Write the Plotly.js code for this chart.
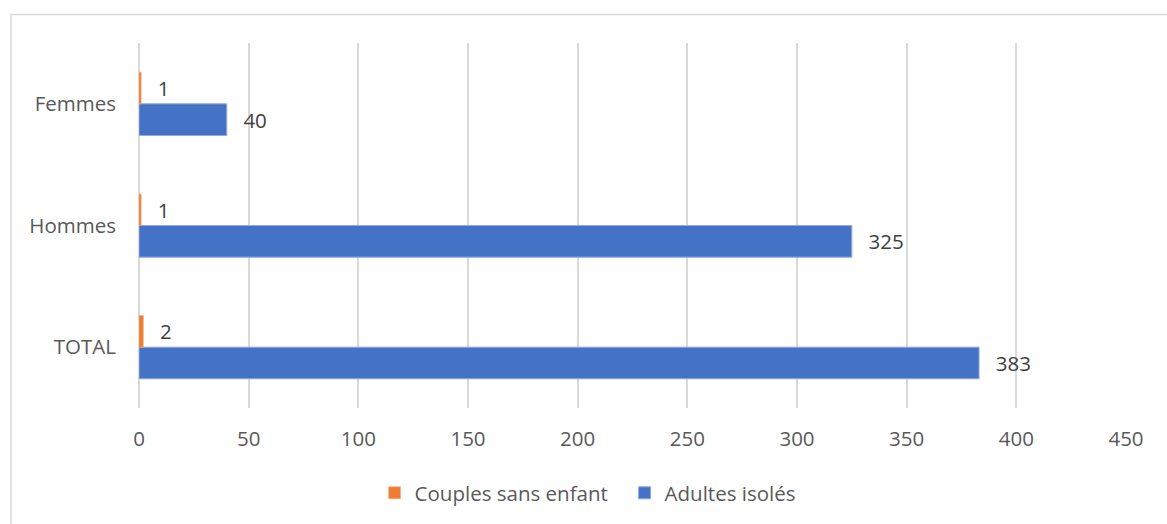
<!DOCTYPE html>
<html>
<head>
<meta charset="utf-8">
<script src="https://cdn.plot.ly/plotly-3.0.1.min.js"></script>
<style>html,body{margin:0;padding:0;background:#fff;}#chart{width:1167px;height:524px;}</style>
</head>
<body>
<div id="chart"></div>
<script>
const categories = ["TOTAL", "Hommes", "Femmes"];
const couplesSansEnfant = [2, 1, 1];
const adultesIsoles = [383, 325, 40];
const seriesNames = ["Couples sans enfant", "Adultes isolés"];
const xTicks = [0, 50, 100, 150, 200, 250, 300, 350, 400, 450];

const pad = "\u2002\u2009";
const FONT = "'Open Sans', sans-serif";
const labelFont = {family: FONT, size: 20.5, color: "#404040"};

const traces = [
  {
    type: "bar", orientation: "h", name: seriesNames[1],
    y: categories, x: adultesIsoles,
    marker: {color: "#4472C4", line: {color: "#8FAADC", width: 1}},
    text: adultesIsoles.map(v => pad + v), textposition: "outside",
    textfont: labelFont, cliponaxis: false, hoverinfo: "x+y"
  },
  {
    type: "bar", orientation: "h", name: seriesNames[0],
    y: categories, x: couplesSansEnfant,
    marker: {color: "#ED7D31", line: {color: "#F4B183", width: 0.5}},
    text: couplesSansEnfant.map(v => pad + v), textposition: "outside",
    textfont: labelFont, cliponaxis: false, hoverinfo: "x+y"
  }
];

const L = 139, R = 41, T = 43, B = 115;
const pw = 1167 - L - R, ph = 524 - T - B;

const layout = {
  width: 1167, height: 524,
  margin: {l: L, r: R, t: T, b: B, pad: 0},
  paper_bgcolor: "#ffffff", plot_bgcolor: "#ffffff",
  font: {family: FONT, size: 20.5, color: "#595959"},
  barmode: "group", bargap: 0.48, bargroupgap: 0,
  showlegend: true,
  legend: {
    orientation: "h", traceorder: "reversed",
    x: 0.492, xanchor: "center", y: (409 - 493) / ph, yanchor: "middle",
    font: {family: FONT, size: 20.5, color: "#595959"}, itemwidth: 30,
    entrywidth: 205, entrywidthmode: "pixels"
  },
  xaxis: {
    range: [0, 450], tickvals: xTicks, ticktext: xTicks.map(String),
    showgrid: true, gridcolor: "#d9d9d9", gridwidth: 2,
    zeroline: true, zerolinecolor: "#d9d9d9", zerolinewidth: 2,
    showline: false, ticks: "", ticklabelstandoff: 16, fixedrange: true
  },
  yaxis: {
    categoryorder: "array", categoryarray: categories,
    showgrid: false, zeroline: false, showline: false, ticks: "",
    ticklabelstandoff: 22, fixedrange: true
  },
  shapes: [{
    type: "rect", xref: "paper", yref: "paper",
    x0: (11 - L) / pw, x1: (1175 - L) / pw,
    y0: (409 - 530) / ph, y1: (409 - 14.5) / ph,
    line: {color: "#d9d9d9", width: 1.5}, fillcolor: "rgba(0,0,0,0)", layer: "below"
  }]
};

Plotly.newPlot("chart", traces, layout, {displayModeBar: false, staticPlot: true});
</script>
</body>
</html>
